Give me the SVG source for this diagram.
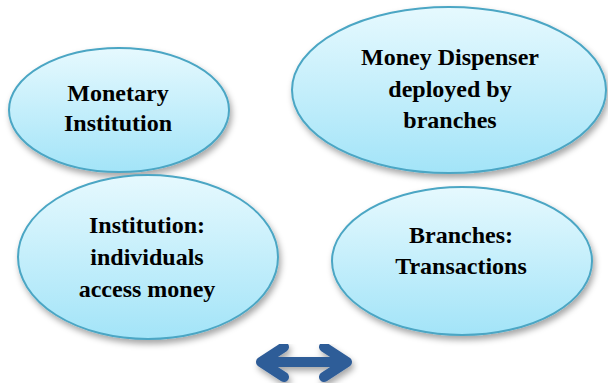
<svg xmlns="http://www.w3.org/2000/svg" width="608" height="388" viewBox="0 0 608 388">
<defs>
<linearGradient id="fill" x1="0" y1="0" x2="0" y2="1">
<stop offset="0" stop-color="#e6f9fe"/>
<stop offset="1" stop-color="#a3e4f8"/>
</linearGradient>
<filter id="sh" x="-10%" y="-10%" width="125%" height="130%">
<feDropShadow dx="2" dy="4" stdDeviation="3" flood-color="#000" flood-opacity="0.35"/>
</filter>
</defs>
<style>
.node ellipse{fill:url(#fill);stroke:#4ba6c4;stroke-width:2;filter:url(#sh)}
.node text{font-family:"Liberation Serif","Times New Roman",serif;font-weight:bold;font-size:24px;fill:#000;text-anchor:middle}
.arrow{fill:none;stroke:#2f5d98;stroke-width:10;stroke-linecap:round;stroke-linejoin:round;filter:url(#sh)}
</style>
<rect width="608" height="388" fill="#fff"/>
<g id="monetary-institution" class="node">
<ellipse cx="119" cy="110" rx="110" ry="62"/>
<text x="118" y="101">Monetary</text>
<text x="118" y="131">Institution</text>
</g>
<g id="money-dispenser" class="node">
<ellipse cx="449" cy="90" rx="157" ry="83"/>
<text x="450" y="65">Money Dispenser</text>
<text x="450" y="97">deployed by</text>
<text x="450" y="128">branches</text>
</g>
<g id="institution-individuals" class="node">
<ellipse cx="148" cy="257" rx="130" ry="82"/>
<text x="147" y="233">Institution:</text>
<text x="147" y="265">individuals</text>
<text x="147" y="297">access money</text>
</g>
<g id="branches-transactions" class="node">
<ellipse cx="462" cy="261" rx="130" ry="74"/>
<text x="461" y="243">Branches:</text>
<text x="461" y="274">Transactions</text>
</g>
<g id="connectors">
<path class="arrow" d="M262 362 H346 M284 347 L261 362 L284 377 M324 347 L347 362 L324 377"/>
</g>
</svg>
